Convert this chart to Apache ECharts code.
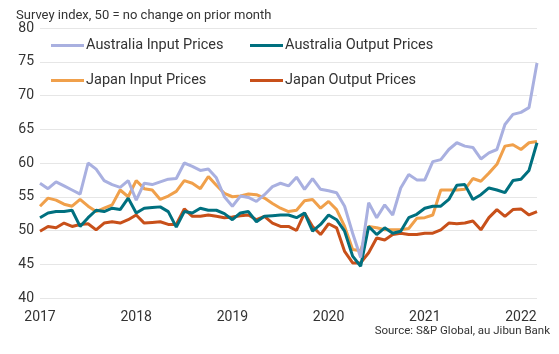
<!DOCTYPE html>
<html>
<head>
    <meta charset="UTF-8" />
    <title>Input and output prices</title>
    <script src="https://cdn.jsdelivr.net/npm/echarts@6/dist/echarts.min.js"></script>
    <style>
        html, body { margin: 0; padding: 0; background: #fff; }
        #main { width: 559px; height: 354px; }
    </style>
</head>
<body>
    <div id="main"></div>
    <script>
    // monthly, Jan 2017 .. Mar 2022
    var months = [];
    for (var y = 2017; y <= 2022; y++) {
        for (var m = 1; m <= 12; m++) {
            if (y == 2022 && m > 3) break;
            months.push(y + '-' + (m < 10 ? '0' + m : m));
        }
    }

    var ausInput = [
        57.0, 56.2, 57.2, 56.6, 56.0, 55.4, 60.0, 59.1, 57.4, 56.8, 56.4, 57.4,
        54.5, 57.0, 56.8, 57.2, 57.6, 57.7, 60.0, 59.5, 58.9, 59.1, 57.8, 55.0,
        53.6, 55.1, 54.9, 54.3, 55.3, 56.5, 57.0, 56.6, 57.9, 56.1, 57.7, 56.1,
        55.9, 55.6, 53.6, 49.6, 46.0, 54.1, 51.9, 53.8, 52.3, 56.3, 58.3, 57.5,
        57.5, 60.2, 60.5, 62.0, 63.0, 62.5, 62.3, 60.6, 61.5, 62.0, 65.7, 67.2,
        67.5, 68.2, 74.8
    ];
    var ausOutput = [
        51.9, 52.6, 52.8, 52.8, 53.0, 50.6, 51.9, 53.0, 52.8, 53.3, 53.1, 54.8,
        52.6, 53.3, 53.4, 53.5, 52.8, 50.5, 52.8, 52.6, 53.3, 53.0, 53.0, 52.5,
        51.6, 52.6, 52.8, 51.3, 52.1, 52.2, 52.3, 52.3, 51.9, 52.6, 49.9, 50.9,
        52.3, 51.6, 49.9, 46.2, 44.7, 50.6, 49.4, 50.4, 49.6, 49.9, 51.9, 52.4,
        53.3, 53.6, 53.6, 54.6, 56.7, 56.8, 54.6, 55.3, 56.3, 56.0, 55.6, 57.4,
        57.6, 58.9, 63.0
    ];
    var jpInput = [
        53.6, 54.8, 54.5, 53.9, 53.6, 54.6, 53.6, 52.8, 53.3, 53.8, 56.0, 55.0,
        57.4, 56.2, 56.0, 54.6, 55.1, 55.8, 57.4, 57.0, 56.2, 58.0, 56.7, 55.5,
        55.0, 55.1, 55.4, 55.3, 54.8, 54.0, 53.3, 52.8, 53.0, 54.4, 54.6, 53.3,
        54.3, 53.1, 50.6, 47.2, 47.0, 50.6, 50.4, 50.1, 50.1, 50.1, 50.3, 51.8,
        51.9, 52.3, 56.0, 56.0, 56.0, 56.1, 57.7, 57.3, 58.5, 59.8, 62.5, 62.7,
        62.0, 63.0, 63.2
    ];
    var jpOutput = [
        49.9, 50.6, 50.4, 51.1, 50.6, 50.9, 51.0, 50.1, 51.1, 51.3, 51.1, 51.6,
        52.3, 51.1, 51.2, 51.3, 50.9, 50.9, 53.2, 52.1, 52.1, 52.3, 52.1, 51.9,
        52.0, 52.2, 52.3, 51.6, 52.1, 51.1, 50.6, 50.6, 50.0, 52.6, 50.6, 49.4,
        51.0, 50.4, 46.9, 45.2, 45.2, 46.7, 48.9, 48.6, 49.4, 49.6, 49.4, 49.4,
        49.6, 49.6, 50.1, 51.1, 51.0, 51.1, 51.4, 50.1, 51.9, 53.1, 52.1, 53.1,
        53.2, 52.3, 52.8
    ];

    var seriesNames = ['Australia Input Prices', 'Australia Output Prices', 'Japan Input Prices', 'Japan Output Prices'];
    var seriesColors = ['#a9b0e0', '#00707f', '#f0a04b', '#c8501a'];
    var seriesData = [ausInput, ausOutput, jpInput, jpOutput];

    var FONT = 'Roboto';
    var mySeries = [];
    for (var i = 0; i < seriesNames.length; i++) {
        mySeries.push({
            name: seriesNames[i],
            type: 'line',
            data: seriesData[i],
            symbol: 'none',
            color: seriesColors[i],
            lineStyle: { width: 3, color: seriesColors[i] },
            z: 10 - i
        });
    }

    function makeLegend(names, left) {
        return {
            data: names,
            orient: 'vertical',
            left: left,
            top: 38,
            icon: 'rect',
            itemWidth: 33,
            itemHeight: 3,
            itemGap: 20,
            padding: 0,
            textStyle: { fontFamily: FONT, fontSize: 14.5, color: '#333', padding: [0, 0, 0, -3] }
        };
    }

    var myChart = echarts.init(document.getElementById('main'), null, { renderer: 'canvas' });
    myChart.setOption({
        animation: false,
        backgroundColor: '#fff',
        grid: { left: 40, right: 22, top: 28, bottom: 56 },
        title: [{
            text: 'Survey index, 50 = no change on prior month',
            left: 16, top: 9, padding: 0,
            textStyle: { fontFamily: FONT, fontSize: 13, fontWeight: 'normal', color: '#333' }
        }, {
            text: 'Source: S&P Global, au Jibun Bank',
            right: 9, top: 325, padding: 0,
            textStyle: { fontFamily: FONT, fontSize: 11.5, fontWeight: 'normal', color: '#333' }
        }],
        legend: [
            makeLegend([seriesNames[0], seriesNames[2]], 51),
            makeLegend([seriesNames[1], seriesNames[3]], 250)
        ],
        xAxis: {
            type: 'category',
            data: months,
            boundaryGap: false,
            axisLine: { show: false },
            axisTick: { show: false },
            axisLabel: {
                interval: function (idx, val) { return val.slice(5) == '01'; },
                formatter: function (val) { return val.slice(0, 4); },
                fontFamily: FONT, fontSize: 14, color: '#333', margin: 12
            }
        },
        yAxis: {
            type: 'value',
            min: 40, max: 80, interval: 5,
            axisLine: { show: false },
            axisTick: { show: false },
            axisLabel: { fontFamily: FONT, fontSize: 14, color: '#333', margin: 6 },
            splitLine: { lineStyle: { color: '#e6e6e6', width: 1 } }
        },
        series: mySeries
    });
    </script>
</body>
</html>
